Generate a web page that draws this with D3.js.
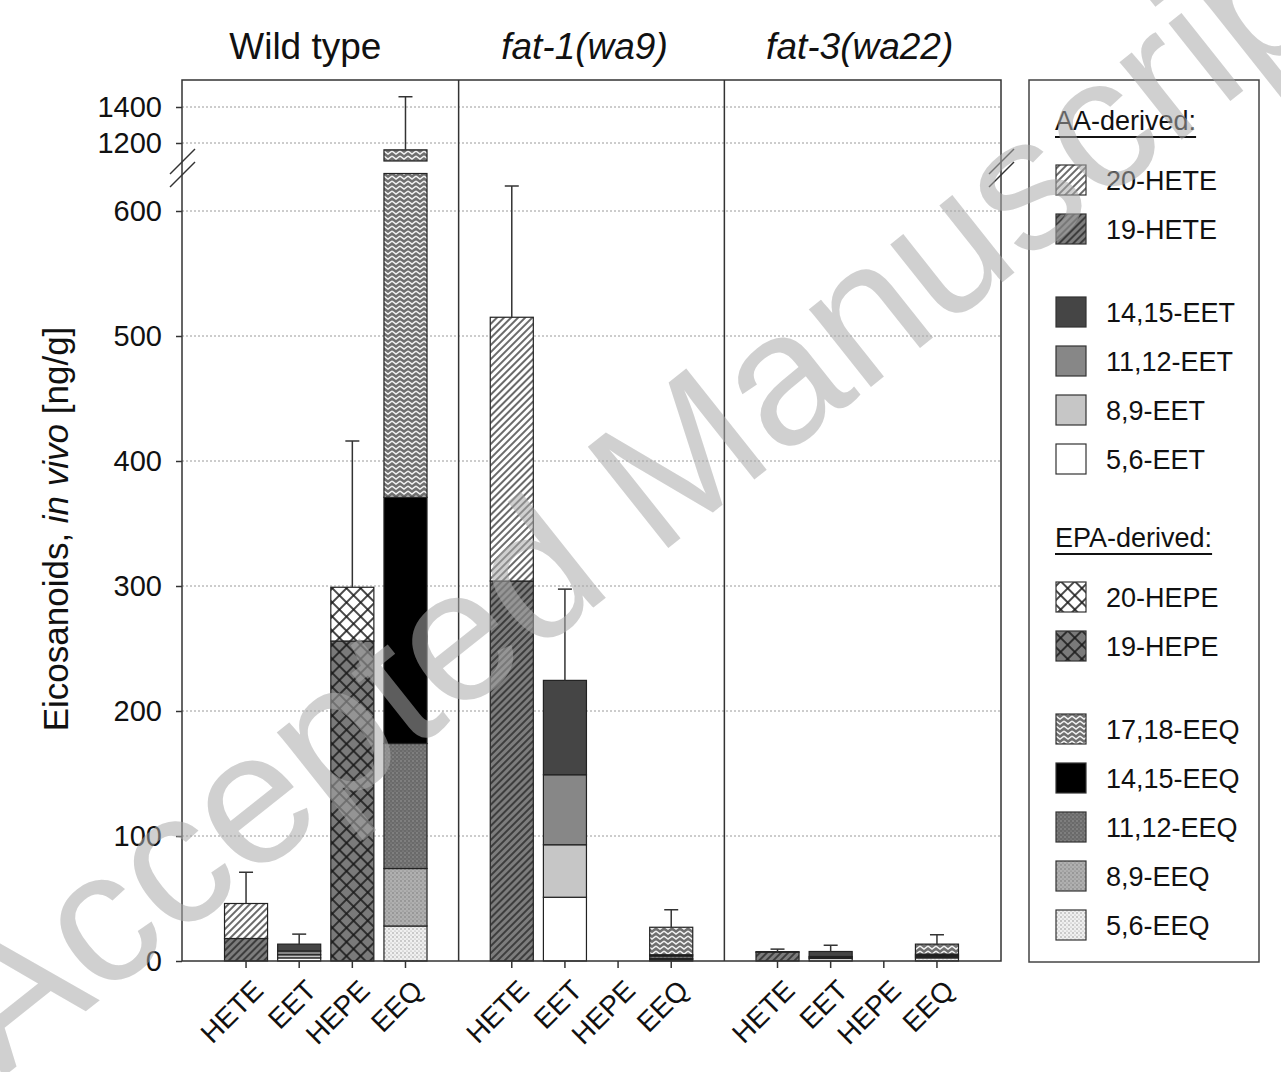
<!DOCTYPE html>
<html lang="en">
    <head>
        <meta charset="UTF-8">
        <script src="https://unpkg.com/d3@7/dist/d3.min.js"></script>
        <title>Eicosanoids</title>
        <style>
            body { margin: 0; background: #fff; }
            text { font-family: "Liberation Sans", Arial, sans-serif; }
        </style>
    </head>
    <body>
        <script type="text/javascript">
            // Data (ng/g)
            var groups = ["Wild type", "fat-1(wa9)", "fat-3(wa22)"];
            var classes = ["HETE", "EET", "HEPE", "EEQ"];

            // one value per group, bottom-to-top stack order per class
            var hete19 = [18, 304, 7];
            var hete20 = [28, 211, 0.5];
            var eet56 = [2.5, 51, 2];
            var eet89 = [2.5, 42, 0.8];
            var eet1112 = [3, 56, 0.8];
            var eet1415 = [5.5, 75.5, 4];
            var hepe19 = [256, 0, 0];
            var hepe20 = [43, 0, 0];
            var eeq56 = [28, 1, 2.5];
            var eeq89 = [46, 1, 1];
            var eeq1112 = [100, 2, 1];
            var eeq1415 = [197, 1, 1];
            var eeq1718 = [791, 22, 8];

            var errHETE = [25, 105, 2];
            var errEET = [8, 73, 5];
            var errHEPE = [117, 0, 0];
            var errEEQ = [295, 14, 7.5];

            var lowTicks = [0, 100, 200, 300, 400, 500, 600];
            var highTicks = [1200, 1400];

            // stacks per class, bottom first: [key, values]
            var stacks = {
                HETE: [["19-HETE", hete19], ["20-HETE", hete20]],
                EET: [["5,6-EET", eet56], ["8,9-EET", eet89], ["11,12-EET", eet1112], ["14,15-EET", eet1415]],
                HEPE: [["19-HEPE", hepe19], ["20-HEPE", hepe20]],
                EEQ: [["5,6-EEQ", eeq56], ["8,9-EEQ", eeq89], ["11,12-EEQ", eeq1112], ["14,15-EEQ", eeq1415], ["17,18-EEQ", eeq1718]]
            };
            var errors = { HETE: errHETE, EET: errEET, HEPE: errHEPE, EEQ: errEEQ };

            var legendAA = ["20-HETE", "19-HETE", null, "14,15-EET", "11,12-EET", "8,9-EET", "5,6-EET"];
            var legendEPA = ["20-HEPE", "19-HEPE", null, "17,18-EEQ", "14,15-EEQ", "11,12-EEQ", "8,9-EEQ", "5,6-EEQ"];

            var W = 1281, H = 1072;
            var plot = { left: 182, right: 1001, top: 80, bottom: 961 };

            var svg = d3.select("body").append("svg")
                .attr("width", W)
                .attr("height", H);

            // Fill patterns
            var defs = svg.append("defs");

            function hatch(id, bg) {
                var p = defs.append("pattern").attr("id", id)
                    .attr("patternUnits", "userSpaceOnUse")
                    .attr("width", 5).attr("height", 5)
                    .attr("patternTransform", "rotate(45)");
                p.append("rect").attr("width", 5).attr("height", 5).attr("fill", bg);
                p.append("line").attr("x1", 1).attr("y1", 0).attr("x2", 1).attr("y2", 5)
                    .attr("stroke", "#1a1a1a").attr("stroke-width", 1.3);
            }
            function cross(id, bg) {
                var p = defs.append("pattern").attr("id", id)
                    .attr("patternUnits", "userSpaceOnUse")
                    .attr("width", 10).attr("height", 10)
                    .attr("patternTransform", "rotate(45)");
                p.append("rect").attr("width", 10).attr("height", 10).attr("fill", bg);
                p.append("line").attr("x1", 1).attr("y1", 0).attr("x2", 1).attr("y2", 10)
                    .attr("stroke", "#1a1a1a").attr("stroke-width", 1.6);
                p.append("line").attr("x1", 0).attr("y1", 1).attr("x2", 10).attr("y2", 1)
                    .attr("stroke", "#1a1a1a").attr("stroke-width", 1.6);
            }
            function zigzag(id) {
                var p = defs.append("pattern").attr("id", id)
                    .attr("patternUnits", "userSpaceOnUse")
                    .attr("width", 8).attr("height", 5);
                p.append("rect").attr("width", 8).attr("height", 5).attr("fill", "#707070");
                p.append("path").attr("d", "M0,1 L4,4 L8,1")
                    .attr("fill", "none").attr("stroke", "#f2f2f2").attr("stroke-width", 1.5);
            }
            function dots(id, bg, dot) {
                var p = defs.append("pattern").attr("id", id)
                    .attr("patternUnits", "userSpaceOnUse")
                    .attr("width", 4).attr("height", 4);
                p.append("rect").attr("width", 4).attr("height", 4).attr("fill", bg);
                p.append("circle").attr("cx", 1).attr("cy", 1).attr("r", 0.8).attr("fill", dot);
                p.append("circle").attr("cx", 3).attr("cy", 3).attr("r", 0.6).attr("fill", dot);
            }
            hatch("p20HETE", "#fff");
            hatch("p19HETE", "#7d7d7d");
            cross("p20HEPE", "#fff");
            cross("p19HEPE", "#7a7a7a");
            zigzag("p1718EEQ");
            dots("p1112EEQ", "#6a6a6a", "#9a9a9a");
            dots("p89EEQ", "#b0b0b0", "#7a7a7a");
            dots("p56EEQ", "#f0f0f0", "#9a9a9a");

            var fills = {
                "20-HETE": "url(#p20HETE)",
                "19-HETE": "url(#p19HETE)",
                "14,15-EET": "#454545",
                "11,12-EET": "#878787",
                "8,9-EET": "#c6c6c6",
                "5,6-EET": "#ffffff",
                "20-HEPE": "url(#p20HEPE)",
                "19-HEPE": "url(#p19HEPE)",
                "17,18-EEQ": "url(#p1718EEQ)",
                "14,15-EEQ": "#000000",
                "11,12-EEQ": "url(#p1112EEQ)",
                "8,9-EEQ": "url(#p89EEQ)",
                "5,6-EEQ": "url(#p56EEQ)"
            };

            // Scales: broken y axis (lower and upper segment)
            var breakLow = 630, breakHigh = 1100;
            var yLow = d3.scaleLinear().domain([0, breakLow]).range([plot.bottom, 173.5]);
            var yHigh = d3.scaleLinear().domain([breakHigh, 1550]).range([161, plot.top]);
            function yPos(v) { return v > breakLow ? yHigh(v) : yLow(v); }

            // 14 slots: 4 bars per group plus a gap slot between groups
            var slots = [];
            groups.forEach(function(g, gi) {
                classes.forEach(function(c) { slots.push(gi + "|" + c); });
                if (gi < groups.length - 1) slots.push("gap" + gi);
            });
            var x = d3.scaleBand().domain(slots)
                .range([plot.left, plot.right])
                .paddingInner(0.19).paddingOuter(0.8);
            var bw = x.bandwidth();
            function cx(key) { return x(key) + bw / 2; }

            // Gridlines
            var grid = svg.append("g");
            lowTicks.filter(function(t) { return t > 0; }).forEach(function(t) {
                grid.append("line").attr("x1", plot.left).attr("x2", plot.right)
                    .attr("y1", yLow(t)).attr("y2", yLow(t));
            });
            highTicks.forEach(function(t) {
                grid.append("line").attr("x1", plot.left).attr("x2", plot.right)
                    .attr("y1", yHigh(t)).attr("y2", yHigh(t));
            });
            grid.selectAll("line").attr("stroke", "#9a9a9a").attr("stroke-width", 1)
                .attr("stroke-dasharray", "2,2");

            // Stacked bars
            var barG = svg.append("g");
            var tops = [];
            groups.forEach(function(g, gi) {
                classes.forEach(function(c) {
                    var key = gi + "|" + c;
                    var base = 0;
                    stacks[c].forEach(function(s) {
                        var v = s[1][gi];
                        var a = base, b = base + v;
                        base = b;
                        if (v <= 0) return;
                        if (a < breakLow) {
                            var b1 = Math.min(b, breakLow);
                            barG.append("rect")
                                .attr("x", x(key)).attr("width", bw)
                                .attr("y", yLow(b1)).attr("height", yLow(a) - yLow(b1))
                                .attr("fill", fills[s[0]]);
                        }
                        if (b > breakHigh) {
                            var a1 = Math.max(a, breakHigh);
                            barG.append("rect")
                                .attr("x", x(key)).attr("width", bw)
                                .attr("y", yHigh(b)).attr("height", yHigh(a1) - yHigh(b))
                                .attr("fill", fills[s[0]]);
                        }
                    });
                    tops.push({ key: key, total: base, err: errors[c][gi] });
                });
            });
            barG.selectAll("rect").attr("stroke", "#222").attr("stroke-width", 1.2);

            // Error bars (upper side only)
            var errG = svg.append("g").attr("stroke", "#333").attr("stroke-width", 1.5);
            tops.filter(function(d) { return d.err > 0; }).forEach(function(d) {
                var c = cx(d.key);
                var y1 = yPos(d.total), y2 = yPos(d.total + d.err);
                errG.append("line").attr("x1", c).attr("x2", c).attr("y1", y1).attr("y2", y2);
                errG.append("line").attr("x1", c - 7).attr("x2", c + 7).attr("y1", y2).attr("y2", y2);
            });

            // Frame and group dividers
            svg.append("rect")
                .attr("x", plot.left).attr("y", plot.top)
                .attr("width", plot.right - plot.left).attr("height", plot.bottom - plot.top)
                .attr("fill", "none").attr("stroke", "#333").attr("stroke-width", 1.5);
            for (var gi = 0; gi < groups.length - 1; gi++) {
                var xd = cx("gap" + gi);
                svg.append("line").attr("x1", xd).attr("x2", xd)
                    .attr("y1", plot.top).attr("y2", plot.bottom)
                    .attr("stroke", "#333").attr("stroke-width", 1.5);
            }

            // Y axes (two segments)
            var yAxisLow = d3.axisLeft(yLow).tickValues(lowTicks).tickFormat(d3.format("d"))
                .tickSize(6).tickPadding(14);
            var yAxisHigh = d3.axisLeft(yHigh).tickValues(highTicks).tickFormat(d3.format("d"))
                .tickSize(6).tickPadding(14);
            [yAxisLow, yAxisHigh].forEach(function(ax) {
                var g = svg.append("g")
                    .attr("transform", "translate(" + plot.left + ",0)")
                    .call(ax);
                g.select(".domain").remove();
                g.selectAll("line").attr("stroke", "#333").attr("stroke-width", 1.5);
                g.selectAll("text").style("font-size", "29px")
                    .style("font-family", "'Liberation Sans', Arial, sans-serif").style("fill", "#111");
            });

            // Axis break marks, left and right
            [plot.left, plot.right].forEach(function(xb) {
                [0, 13].forEach(function(off) {
                    svg.append("line")
                        .attr("x1", xb - 12).attr("y1", 174 + off)
                        .attr("x2", xb + 13).attr("y2", 149 + off)
                        .attr("stroke", "#333").attr("stroke-width", 1.5);
                });
            });

            // X ticks and rotated labels
            var xg = svg.append("g");
            groups.forEach(function(g, gi) {
                classes.forEach(function(c) {
                    var cxx = cx(gi + "|" + c);
                    xg.append("line").attr("x1", cxx).attr("x2", cxx)
                        .attr("y1", plot.bottom).attr("y2", plot.bottom + 7)
                        .attr("stroke", "#333").attr("stroke-width", 1.5);
                    xg.append("text")
                        .attr("text-anchor", "end")
                        .attr("transform", "translate(" + (cxx + 19) + "," + 992 + ") rotate(-45)")
                        .style("font-size", "28px").style("fill", "#111")
                        .text(c);
                });
            });

            // Group titles
            var edges = [plot.left, cx("gap0"), cx("gap1"), plot.right];
            var titleShift = [-15, -7, -3];
            groups.forEach(function(g, gi) {
                svg.append("text")
                    .attr("x", (edges[gi] + edges[gi + 1]) / 2 + titleShift[gi])
                    .attr("y", 59)
                    .attr("text-anchor", "middle")
                    .style("font-size", "37px").style("fill", "#111")
                    .style("font-style", gi === 0 ? "normal" : "italic")
                    .text(g);
            });

            // Y label
            var yl = svg.append("text")
                .attr("transform", "translate(68,529) rotate(-90)")
                .attr("text-anchor", "middle")
                .style("font-size", "35px").style("fill", "#111");
            yl.append("tspan").text("Eicosanoids, ");
            yl.append("tspan").style("font-style", "italic").text("in vivo");
            yl.append("tspan").text(" [ng/g]");

            // Legend
            var lg = svg.append("g");
            lg.append("rect").attr("x", 1029).attr("y", 80).attr("width", 230).attr("height", 882)
                .attr("fill", "#fff").attr("stroke", "#444").attr("stroke-width", 1.5);

            function legendBlock(title, items, yTitle) {
                var t = lg.append("text").attr("x", 1055).attr("y", yTitle + 10)
                    .style("font-size", "27px").style("fill", "#111").text(title);
                var tw = t.node().getComputedTextLength();
                lg.append("line").attr("x1", 1055).attr("x2", 1055 + tw)
                    .attr("y1", yTitle + 17).attr("y2", yTitle + 17)
                    .attr("stroke", "#111").attr("stroke-width", 2);
                var y = yTitle + 60;
                items.forEach(function(k) {
                    if (k === null) { y += 34; return; }
                    lg.append("rect").attr("x", 1056).attr("y", y - 15).attr("width", 30).attr("height", 30)
                        .attr("fill", fills[k]).attr("stroke", "#333").attr("stroke-width", 1.2);
                    lg.append("text").attr("x", 1106).attr("y", y + 10)
                        .style("font-size", "27px").style("fill", "#111").text(k);
                    y += 49;
                });
            }
            legendBlock("AA-derived:", legendAA, 120);
            legendBlock("EPA-derived:", legendEPA, 537);

            // Watermark
            svg.append("text")
                .attr("transform", "translate(2,1078) rotate(-38.5)")
                .style("font-size", "188px")
                .style("fill", "#a9a9a9")
                .style("fill-opacity", 0.55)
                .text("Accepted Manuscript");
        </script>
    </body>
</html>
